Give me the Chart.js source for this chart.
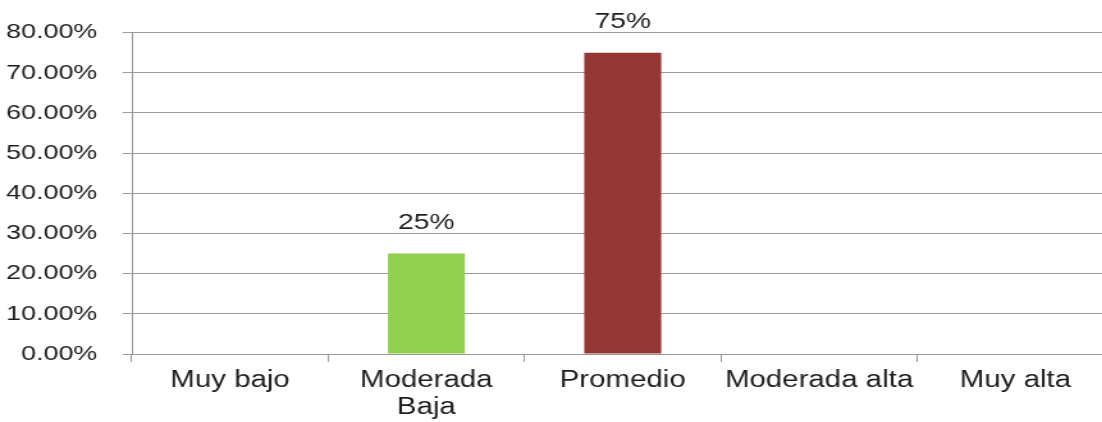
<!DOCTYPE html>
<html>
<head>
<meta charset="utf-8">
<script src="https://cdn.jsdelivr.net/npm/chart.js@4"></script>
<style>
  html, body { margin: 0; padding: 0; background: #fff; overflow: hidden; }
  #wrap { width: 1102px; height: 422px; overflow: hidden; }
  /* the reference text is horizontally stretched, so stretch the canvas the same way */
  #chart { display: block; transform: scaleX(1.28); transform-origin: 0 0; }
</style>
</head>
<body>
<div id="wrap"><canvas id="chart" width="870" height="422"></canvas></div>
<script>
const categories = ["Muy bajo", ["Moderada", "Baja"], "Promedio", "Moderada alta", "Muy alta"];
const values = [0, 0.25, 0.75, 0, 0];
const valueLabels = ["", "25%", "75%", "", ""];
const barColors = ["#92D050", "#92D050", "#943634", "#943634", "#943634"];
const yTicks = [0, 0.1, 0.2, 0.3, 0.4, 0.5, 0.6, 0.7, 0.8];

const lineColor = "#9a9a9a";
const textColor = "#1e1e1e";

// draws the labels above the bars
const barLabels = {
    id: "barLabels",
    afterDatasetsDraw(chart) {
        const ctx = chart.ctx;
        const meta = chart.getDatasetMeta(0);
        ctx.save();
        ctx.font = "22px 'Liberation Sans', Arial, sans-serif";
        ctx.fillStyle = textColor;
        ctx.textAlign = "center";
        ctx.textBaseline = "middle";
        meta.data.forEach((bar, i) => {
            if (valueLabels[i]) ctx.fillText(valueLabels[i], bar.x, bar.y - 31);
        });
        ctx.restore();
    }
};

new Chart(document.getElementById("chart"), {
    type: "bar",
    data: {
        labels: categories,
        datasets: [{
            data: values,
            backgroundColor: barColors,
            barPercentage: 0.392,
            categoryPercentage: 1
        }]
    },
    options: {
        responsive: false,
        animation: false,
        layout: { padding: { top: 30, right: 0, left: 0, bottom: 0 } },
        plugins: {
            legend: { display: false },
            tooltip: { enabled: false }
        },
        scales: {
            x: {
                afterFit: s => { s.height = 68; },
                grid: {
                    offset: true,
                    drawOnChartArea: false,
                    color: lineColor,
                    tickLength: 8
                },
                border: { color: lineColor },
                ticks: {
                    color: textColor,
                    padding: 5,
                    maxRotation: 0,
                    autoSkip: false,
                    font: { family: "'Liberation Sans', Arial, sans-serif", size: 23, lineHeight: 1.18 }
                }
            },
            y: {
                min: 0,
                max: 0.8,
                afterFit: s => { s.width = 103; },
                afterBuildTicks: s => { s.ticks = yTicks.map(v => ({ value: v })); },
                grid: { color: lineColor, tickLength: 7 },
                border: { color: lineColor },
                ticks: {
                    color: textColor,
                    padding: 20,
                    font: { family: "'Liberation Sans', Arial, sans-serif", size: 21 },
                    callback: v => (v * 100).toFixed(2) + "%"
                }
            }
        }
    },
    plugins: [barLabels]
});
</script>
</body>
</html>
